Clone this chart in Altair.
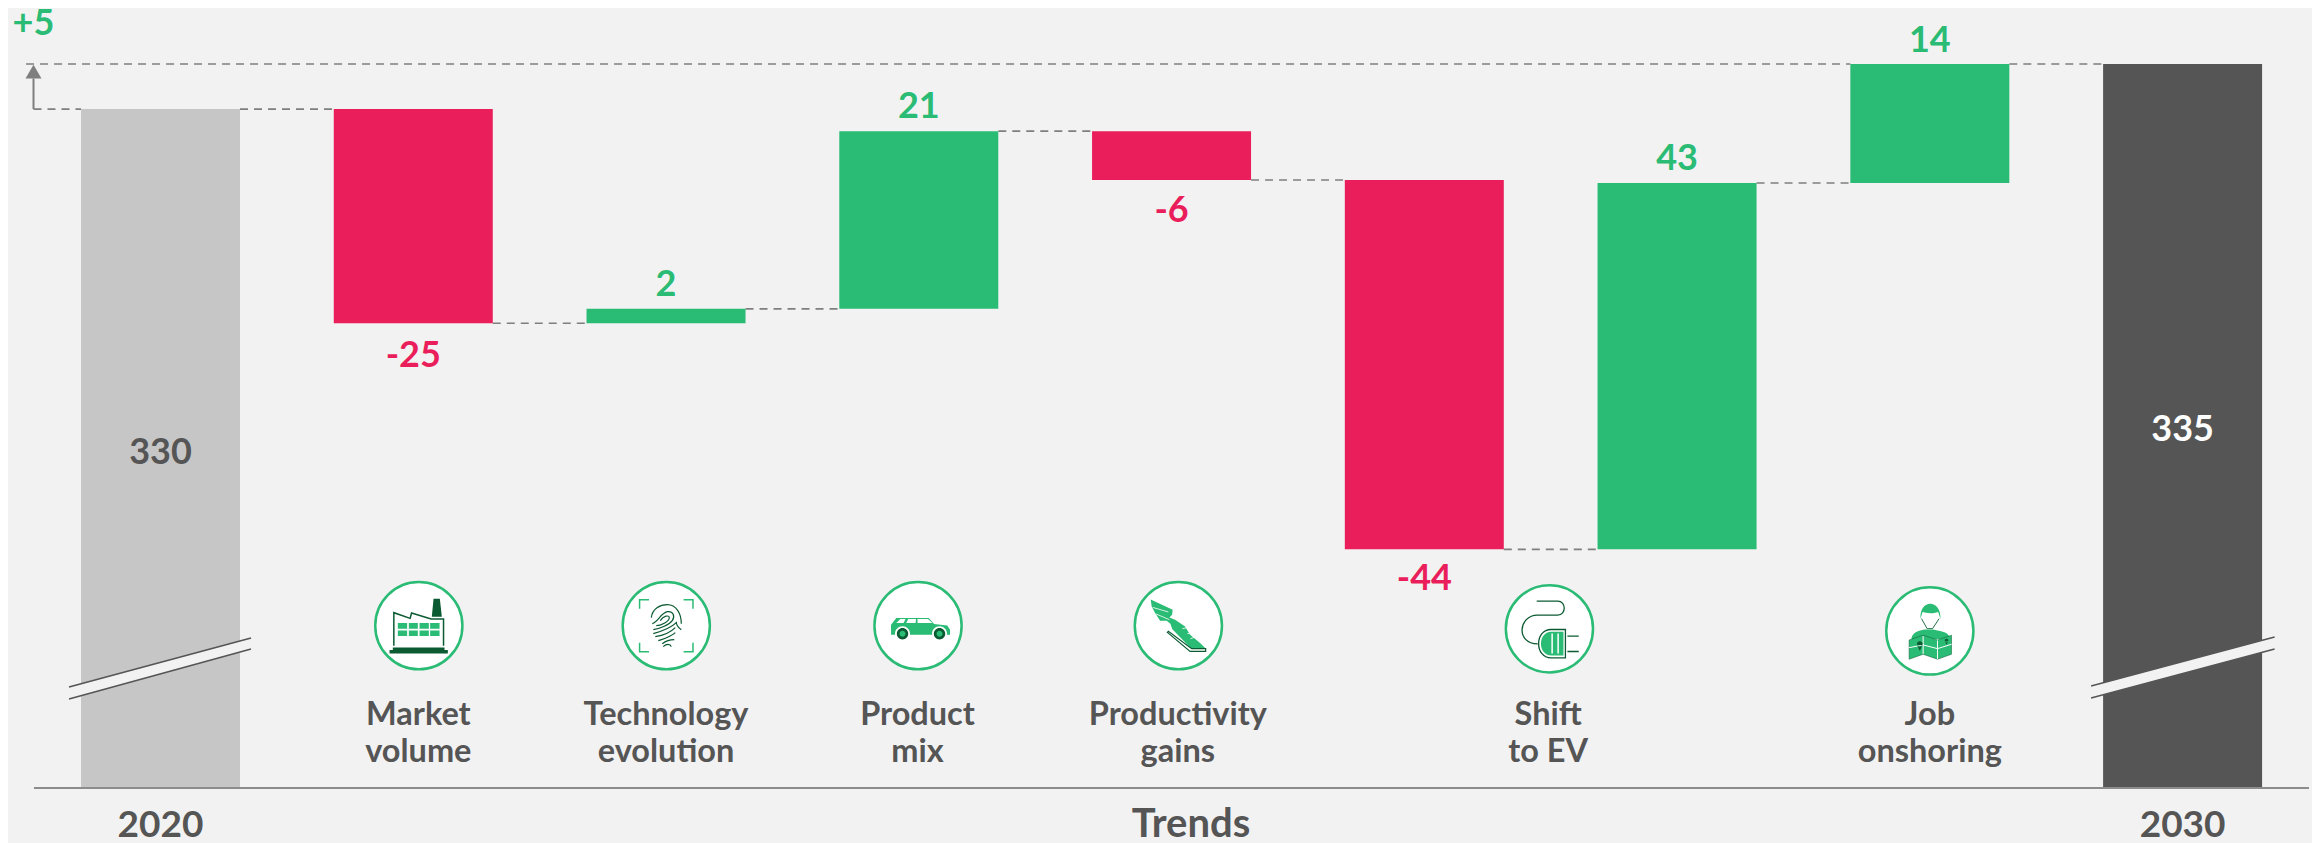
import re
import altair as alt
import pandas as pd

# ---- bars (position index, low level, high level, colour)
bar_idx = [0, 1, 2, 3, 4, 5, 6, 7, 8]
bar_low = [249.82, 304.5, 304.5, 306.2, 321.35, 277.9, 277.9, 321.0, 249.82]
bar_high = [329.7, 329.7, 306.2, 327.1, 327.1, 321.35, 321.0, 335.0, 335.0]
GREY, DARK, RED, GREEN, DGREEN = "#c6c6c6", "#555555", "#e91e5a", "#2abb75", "#0b5a32"
BG, DASH, TXT = "#f2f2f2", "#7f7f7f", "#555555"
bar_col = [GREY, RED, GREEN, GREEN, RED, RED, GREEN, GREEN, DARK]
HALF = 0.3145

# ---- dashed connectors
con_from = [-0.532, -0.5025, 0.3145, 1.3145, 2.3145, 3.3145, 4.3145, 5.3145, 6.3145, 7.3145]
con_to = [6.6855, -0.3145, 0.6855, 1.6855, 2.6855, 3.6855, 4.6855, 5.6855, 6.6855, 7.6855]
con_lvl = [335.0, 329.7, 329.7, 304.5, 306.2, 327.1, 321.35, 277.9, 321.0, 335.0]

# ---- value labels
val_x = [0, 8, 1, 2, 3, 4, 5, 6, 7, -0.503]
val_y = [287.94, 290.65, 299.35, 307.71, 328.65, 316.41, 273.12, 322.53, 336.41, 338.41]
val_t = ["330", "335", "-25", "2", "21", "-6", "-44", "43", "14", "+5"]
val_c = [TXT, "#ffffff", RED, GREEN, GREEN, RED, RED, GREEN, GREEN, GREEN]

# ---- category labels
cat_x = [1.02, 1.02, 2, 2, 2.995, 2.995, 4.025, 4.025, 5.49, 5.49, 7, 7]
cat_y = [257.24, 252.88] * 6
cat_t = ["Market", "volume", "Technology", "evolution", "Product", "mix",
         "Productivity", "gains", "Shift", "to EV", "Job", "onshoring"]
grp_x = [0, 4.077, 8]
grp_t = ["2020", "Trends", "2030"]
grp_y = [244.06, 244.06, 244.06]
grp_s = [37, 40, 37]

# ---- axis breaks
brk_id = ["a", "a", "b", "b"]
brk_x = [-0.362, 0.358, 7.638, 8.364]
brk_top = [261.71, 267.47, 261.82, 267.59]
brk_bot = [260.29, 266.18, 260.41, 266.18]

# ---- icons
ico_x = [1.022, 2.001, 2.997, 4.027, 5.495, 7]
ico_y = [268.92, 268.92, 268.92, 268.92, 268.55, 268.3]


def P(s):
    return re.sub(r"-?\d+\.?\d*", lambda m: f"{float(m.group()) / 44:.4f}", s)


def C(cx, cy, r):
    k = 0.5523 * r
    return (f"M{cx + r},{cy} C{cx + r},{cy + k} {cx + k},{cy + r} {cx},{cy + r} "
            f"C{cx - k},{cy + r} {cx - r},{cy + k} {cx - r},{cy} "
            f"C{cx - r},{cy - k} {cx - k},{cy - r} {cx},{cy - r} "
            f"C{cx + k},{cy - r} {cx + r},{cy - k} {cx + r},{cy} Z")


def R(x0, y0, x1, y1):
    return f"M{x0},{y0} L{x1},{y0} L{x1},{y1} L{x0},{y1} Z"


NONE = "transparent"
WIN_X = [(-21, -11.7), (-10, -1), (0.7, 10), (11.3, 20.7)]
WIN_Y = [(-2.7, 3), (4.7, 10.3)]
windows = " ".join(R(a, c, b, d) for a, b in WIN_X for c, d in WIN_Y)

# (icon number, fill, stroke, stroke width, path)
parts = [
    (0, DGREEN, NONE, 0, "M14.7,-27 L21,-27 L23,-9 L13,-9 Z"),
    (0, NONE, DGREEN, 1.5, "M-25,20 L-25,-13 L-8.7,-7.3 L-7.3,-12.7 L12.3,-6.7 L24.7,-6.7 L24.7,20"),
    (0, DGREEN, NONE, 0, R(-29.3, 24.3, 29, 27.7) + " " + R(-26, 21.7, 25.7, 24.3)),
    (0, GREEN, NONE, 0, windows),
    (1, NONE, GREEN, 1.5, "M-26.7,-17 L-26.7,-26 L-17.3,-26 M26.7,-17 L26.7,-26 L17.3,-26 "
                          "M-26.7,17 L-26.7,26 L-17.3,26 M26.7,17 L26.7,26 L17.3,26"),
    (1, NONE, DGREEN, 1.2, "M-15,-8 C-14,-17 -6,-21 1,-21 C10,-21 15,-12 15,-2 "
                           "M-14,-2 C-8,-4 -6,-12 1,-14 C7,-15 9,-9 6,-5 C3,-1 -6,3 -13,4 "
                           "M-6,-5 C-3,-10 3,-11 3,-8 C3,-4 -6,0 -10,0 "
                           "M-13,8 C-6,6 5,2 10,-3 M15,4 C12,2 10,0 10,-4 "
                           "M-11,11 C-4,10 4,7 9,2 M-8,15 C-2,13 5,11 9,7 "
                           "M-4,18 C0,15 5,14 8,14 M-3,21 C0,18 4,18 5,21"),
    (2, GREEN, NONE, 0, "M-21.7,-7.7 L10.7,-7.7 L16,-1.7 L29.3,-0.3 L32,4 L32,9 L-27,9 L-27,-1 Z"),
    (2, "#ffffff", NONE, 0, "M-21.7,-2.7 L-17.7,-6.7 L-12.5,-6.7 L-14.5,-2.7 Z "
                            "M-11.8,-2.7 L-9.8,-6.7 L-2,-6.7 L-2.5,-2.7 Z "
                            "M-0.5,-2.7 L-0.5,-6.7 L10,-6.7 L14.3,-2.7 Z"),
    (2, "#ffffff", NONE, 0, C(-15.5, 8, 7.5) + " " + C(21.5, 8, 7.5)),
    (2, DGREEN, NONE, 0, C(-15.5, 8, 5.7) + " " + C(21.5, 8, 5.7)),
    (2, GREEN, NONE, 0, C(-15.5, 8, 3) + " " + C(21.5, 8, 3)),
    (3, GREEN, NONE, 0, "M-27.7,-26.3 L-5.7,-16 L-6.3,-11 L-9,-8.3 L-3.3,-6 L6.7,0.7 L11.7,9 L21.7,17.3 "
                        "L26.7,22.3 L12.3,22.3 L-6,3.5 L-8,-2 L-11.7,-5 L-18.3,-5 L-23.3,-12.7 L-26.7,-19.3 Z"),
    (3, NONE, "#ffffff", 0.8, "M-25.7,-18.3 L-10,-13.7 M-22.3,-11.7 L-9,-6 M9,8 L14,7 M4,3 L9,2 M12,13 L18,11"),
    (3, NONE, DGREEN, 1.2, "M-11,6.7 L11.7,25.7 L27.3,25.7 L27.3,23 L13.3,23 L-10,5.7 Z"),
    (4, NONE, DGREEN, 1.3, "M-12.7,-27.7 L8.3,-27.7 C17,-27.7 17,-13.7 8.3,-13.7 L-12,-13.7 "
                           "C-31,-13.7 -34,15 -11.7,15"),
    (4, NONE, DGREEN, 1.3, "M16,0.7 L1.7,0.7 C-15,0.7 -15,29 1.7,29 L16,29 Z"),
    (4, GREEN, NONE, 0, "M14,3 L2,3 C-12,3 -12,26.7 2,26.7 L14,26.7 Z"),
    (4, NONE, "#ffffff", 1.5, "M2.7,4.7 L2.7,24.7 M8.7,4.7 L8.7,24.7"),
    (4, NONE, DGREEN, 1.3, "M18,7.3 L29.3,7.3 M18,22.7 L29.3,22.7"),
    (5, GREEN, NONE, 0, "M-9.3,-12.3 C-10.7,-32.3 11.3,-32.3 10.7,-12.3 L8.3,-19 "
                        "C1.7,-16.7 -5,-18.3 -7.3,-19 Z"),
    (5, NONE, DGREEN, 0.9, "M-8.3,-12.3 L-2.7,-2.3 L2.7,-2.3 L9.3,-12.3"),
    (5, GREEN, NONE, 0, "M-18.3,6.7 C-16.7,0 -6.7,-1.7 -3.3,-1.5 L3.3,-1.5 C8.3,0 18.3,0 20,6.7 "
                        "L20,8 L-18.3,8 Z"),
    (5, GREEN, DGREEN, 0.5, "M-20.7,9 L-6.7,4.3 L7.7,9 L21.7,4.3 L21.7,23.3 L7.7,28.3 L-6.7,23.3 L-20.7,28.3 Z"),
    (5, NONE, "#ffffff", 1.0, "M-6.7,5 L-6.7,23 M7.7,9.5 L7.7,28 M-20.7,16.7 L-6.7,14 L7.7,17.7 L21.7,13.3"),
    (5, DGREEN, NONE, 0, C(-10, 13, 2.8) + " M-12.6,14.2 L-10,20 L-7.4,14.2 Z"),
    (5, DGREEN, NONE, 0, C(16.7, 9.5, 1.8) + " M15.1,10.3 L16.7,13.8 L18.3,10.3 Z"),
]

X_DOMAIN = [-0.6034, 8.512]
Y_DOMAIN = [243.353, 341.588]
xs = alt.Scale(domain=X_DOMAIN, nice=False, zero=False)
ys = alt.Scale(domain=Y_DOMAIN, nice=False, zero=False)
X = lambda f: alt.X(f, type="quantitative", scale=xs, axis=None)
Y = lambda f: alt.Y(f, type="quantitative", scale=ys, axis=None)

bars = pd.DataFrame({"x0": [i - HALF for i in bar_idx], "x1": [i + HALF for i in bar_idx],
                     "lo": bar_low, "hi": bar_high, "c": bar_col})
cons = pd.DataFrame({"x0": con_from, "x1": con_to, "y": con_lvl})
vals = pd.DataFrame({"x": val_x, "y": val_y, "t": val_t, "c": val_c})
cats = pd.DataFrame({"x": cat_x, "y": cat_y, "t": cat_t})
grps = pd.DataFrame({"x": grp_x, "y": grp_y, "t": grp_t, "s": grp_s})
brks = pd.DataFrame({"id": brk_id, "x": brk_x, "top": brk_top, "bot": brk_bot})
circles = pd.DataFrame({"x": ico_x, "y": ico_y})
icons = pd.DataFrame([{"x": ico_x[n], "y": ico_y[n], "fill": f, "stroke": s, "sw": w, "path": P(p),
                       "order": k}
                      for k, (n, f, s, w, p) in enumerate(parts)])

connector = alt.Chart(cons).mark_rule(color=DASH, strokeWidth=1.7, strokeDash=[8, 6]).encode(
    x=X("x0"), x2="x1", y=Y("y"))
rects = alt.Chart(bars).mark_rect(strokeWidth=0).encode(
    x=X("x0"), x2="x1", y=Y("lo"), y2="hi", fill=alt.Fill("c:N", scale=None))
baseline = alt.Chart(pd.DataFrame({"x0": [-0.5005], "x1": [8.5], "y": [249.82]})).mark_rule(
    color="#8c8c8c", strokeWidth=2).encode(x=X("x0"), x2="x1", y=Y("y"))
arrow_line = alt.Chart(pd.DataFrame({"x": [-0.5025], "y0": [329.7], "y1": [333.3]})).mark_rule(
    color=DASH, strokeWidth=2).encode(x=X("x"), y=Y("y0"), y2="y1")
arrow_head = alt.Chart(pd.DataFrame({"x": [-0.5025], "y": [334.1]})).mark_point(
    shape="triangle-up", filled=True, color=DASH, size=256, opacity=1).encode(x=X("x"), y=Y("y"))
brk_band = alt.Chart(brks).mark_area(color=BG, interpolate="linear").encode(
    x=X("x"), y=Y("top"), y2="bot", detail="id:N")
brk_l1 = alt.Chart(brks).mark_line(color=DARK, strokeWidth=1.6).encode(x=X("x"), y=Y("top"), detail="id:N")
brk_l2 = alt.Chart(brks).mark_line(color=DARK, strokeWidth=1.6).encode(x=X("x"), y=Y("bot"), detail="id:N")
circle_m = alt.Chart(circles).mark_point(
    shape="circle", filled=True, fill="#ffffff", stroke=GREEN, strokeWidth=2.5, size=7600, opacity=1
).encode(x=X("x"), y=Y("y"))
icon_m = alt.Chart(icons).mark_point(size=7744, opacity=1).encode(
    x=X("x"), y=Y("y"),
    shape=alt.Shape("path:N", scale=None),
    fill=alt.Fill("fill:N", scale=None),
    stroke=alt.Stroke("stroke:N", scale=None),
    strokeWidth=alt.StrokeWidth("sw:Q", scale=None),
    order=alt.Order("order:Q"),
)
val_m = alt.Chart(vals).mark_text(font="Lato", fontSize=36, fontWeight=700, baseline="alphabetic",
                                  align="center").encode(
    x=X("x"), y=Y("y"), text="t:N", fill=alt.Fill("c:N", scale=None))
cat_m = alt.Chart(cats).mark_text(font="Lato", fontSize=32.5, fontWeight=700, baseline="alphabetic",
                                  align="center", fill=TXT).encode(x=X("x"), y=Y("y"), text="t:N")
grp_m = alt.Chart(grps).mark_text(font="Lato", fontWeight=700, baseline="alphabetic",
                                  align="center", fill=TXT).encode(
    x=X("x"), y=Y("y"), text="t:N", size=alt.Size("s:Q", scale=None))

chart = alt.layer(
    connector, rects, baseline, arrow_line, arrow_head, brk_band, brk_l1, brk_l2,
    circle_m, icon_m, val_m, cat_m, grp_m
).properties(
    width=2304, height=835, background=BG, padding=0,
    autosize=alt.AutoSizeParams(type="none"),
).configure_view(stroke=None)

chart.save("out.html", embed_options={"renderer": "svg", "actions": False})
